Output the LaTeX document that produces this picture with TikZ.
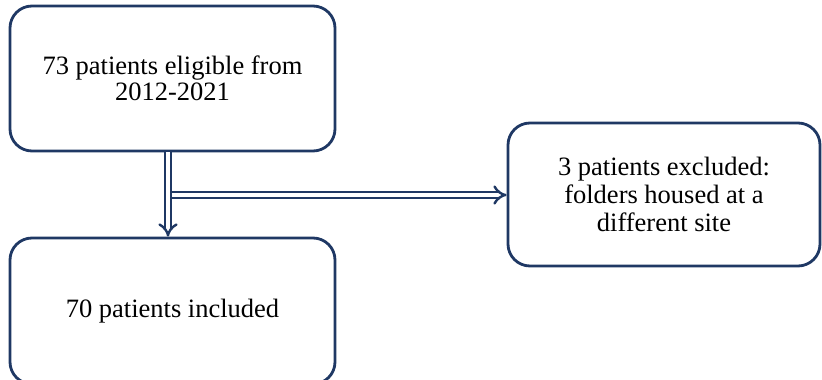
\documentclass[tikz,border=0pt]{standalone}
\usepackage{fontspec}
\setmainfont{Liberation Serif}
\usetikzlibrary{arrows.meta}
\definecolor{navy}{HTML}{1F3864}
\begin{document}
\begin{tikzpicture}[x=1pt,y=-1pt,
  box/.style={draw=navy, line width=2.8pt, rounded corners=22pt, align=center,
    font=\fontsize{26.5}{26.5}\selectfont, inner sep=0pt},
  dbl/.style={draw=navy, double=white, line width=2.4pt, double distance=4pt, -{Implies[scale=1.2]}}]
\useasboundingbox (0,0) rectangle (822,380);
\node[box, minimum width=325pt, minimum height=145pt] (top) at (172.5,78.5)
  {73 patients eligible from\\2012-2021};
\node[box, minimum width=325pt, minimum height=146pt] (bot) at (172.5,311)
  {70 patients included};
\node[box, minimum width=312pt, minimum height=143pt, font=\fontsize{26.5}{28}\selectfont] (right) at (664,194.5)
  {3 patients excluded:\\folders housed at a\\different site};
\coordinate (a) at (168,195);
\draw[dbl] (top.south -| a) -- (bot.north -| a);
\draw[dbl] ([xshift=4.4pt]a) -- (right.west |- a);
\end{tikzpicture}
\end{document}
